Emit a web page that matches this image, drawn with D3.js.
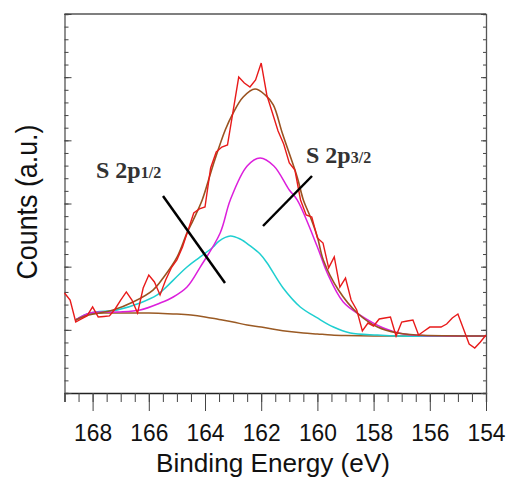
<!DOCTYPE html>
<html>
<head>
<meta charset="utf-8">
<script src="https://cdn.jsdelivr.net/npm/d3@7"></script>
<style>
  html, body { margin: 0; padding: 0; background: #fff; }
  svg { display: block; }
</style>
</head>
<body>
<svg id="chart" width="507" height="479"></svg>
<script>
// S 2p core-level spectrum: measured counts, fitted envelope, Shirley background
// and the two spin-orbit components (binding energy in eV, counts in arbitrary units).

const measuredBE = [169.0,168.8,168.6,168.4,168.2,168.0,167.8,167.6,167.4,167.2,167.0,166.8,166.6,166.4,166.2,166.0,
  165.8,165.6,165.4,165.2,165.0,164.8,164.6,164.4,164.2,164.0,163.8,163.6,163.4,163.2,163.0,162.8,162.6,162.4,162.2,
  162.0,161.8,161.6,161.4,161.2,161.0,160.8,160.6,160.4,160.2,160.0,159.8,159.6,159.4,159.2,159.0,158.8,158.6,158.4,
  158.2,158.0,157.8,157.6,157.4,157.2,157.0,156.8,156.6,156.4,156.2,156.0,155.8,155.6,155.4,155.2,155.0,154.8,154.6,
  154.4,154.2,154.0];
const measuredCounts = [7.92,7.36,5.62,5.86,6.10,6.81,6.02,6.06,6.10,6.65,7.36,8.00,7.36,6.33,8.31,9.34,
  8.79,7.76,8.95,9.90,10.53,11.56,12.90,14.25,14.57,14.72,17.81,19.08,19.47,19.63,22.32,25.01,24.54,24.22,24.78,
  26.12,23.59,22.16,20.74,19.71,18.21,17.65,15.28,14.09,13.93,12.27,11.87,9.90,10.77,8.39,9.10,7.36,6.57,4.91,
  5.54,5.30,5.86,5.94,6.02,4.51,5.62,5.70,5.78,4.59,4.91,5.22,5.22,5.22,5.46,5.94,6.25,5.07,3.88,
  3.56,4.04,4.59];

const envelopeBE = [168.6,168.27,167.27,166.56,165.85,165.49,164.99,164.64,164.42,164.10,163.71,163.28,163.0,
  162.64,162.22,161.86,161.57,161.25,160.72,160.50,160.25,160.0,159.79,159.25,158.58,157.86,157.15,156.44,154.0];
const envelopeCounts = [5.78,6.10,6.57,7.20,8.15,9.10,10.77,12.67,13.69,15.28,18.05,20.82,22.16,
  23.43,24.06,23.59,22.80,20.58,17.10,15.28,13.93,12.35,10.53,8.15,6.33,5.22,4.75,4.59,4.51];

const backgroundBE = [168.6,168.4,168.2,168.0,167.5,167.0,166.5,166.0,165.5,165.0,164.5,164.0,163.5,163.0,
  162.5,162.0,161.5,161.0,160.5,160.0,159.5,159.0,158.0,154.0];
const backgroundCounts = [5.78,6.02,6.21,6.29,6.33,6.33,6.33,6.33,6.29,6.25,6.17,6.02,5.82,5.62,
  5.38,5.22,5.03,4.87,4.75,4.67,4.59,4.55,4.51,4.51];

const p32BE = [168.6,168.09,167.13,166.31,165.60,165.13,164.64,164.17,163.46,163.10,162.5,162.04,161.55,161.0,
  160.72,160.0,159.65,159.08,158.48,157.65,156.94,155.37,154.0];
const p32Counts = [5.78,6.33,6.41,6.57,7.12,7.60,8.39,9.97,12.67,15.28,17.97,18.60,17.97,16.07,
  15.28,11.56,9.50,7.20,6.17,5.15,4.67,4.51,4.51];

const p12BE = [168.6,168.09,167.13,166.31,165.70,165.49,164.64,164.17,163.71,163.5,163.10,162.75,162.39,162.04,
  161.79,161.22,160.61,160.0,159.43,158.83,157.87,157.16,154.0];
const p12Counts = [5.78,6.33,6.57,7.12,7.76,8.15,9.97,10.77,11.56,12.03,12.43,12.19,11.64,11.00,
  10.29,8.31,6.81,5.94,5.22,4.75,4.59,4.51,4.51];

const xTickLabels = [168,166,164,162,160,158,156,154];
const xLabel = "Binding Energy (eV)";
const yLabel = "Counts (a.u.)";

const svg = d3.select("#chart");
const plotLeft = 64.5, plotRight = 486, plotTop = 14, plotBottom = 393;

const x = d3.scaleLinear().domain([169, 154]).range([plotLeft, plotRight]);
const y = d3.scaleLinear().domain([0, 30]).range([plotBottom, plotTop]);

const zip = (a, b) => a.map((v, i) => [v, b[i]]);

// frame
svg.append("line").attr("x1", plotLeft).attr("x2", plotRight).attr("y1", plotTop).attr("y2", plotTop)
  .attr("stroke", "#555").attr("stroke-width", 1.3);

// x axis: minor ticks every 0.5 eV, major labelled ticks every 2 eV
const minorX = d3.range(169, 153.99, -0.5);
svg.append("g").attr("transform", `translate(0,${plotBottom})`)
  .call(d3.axisBottom(x).tickValues(minorX).tickSize(9).tickFormat(""))
  .call(g => g.select(".domain").attr("stroke", "#222").attr("stroke-width", 1.3));
svg.append("g").attr("transform", `translate(0,${plotBottom})`)
  .call(d3.axisBottom(x).tickValues(xTickLabels).tickSize(18).tickPadding(13).tickFormat(d3.format("d")))
  .call(g => g.select(".domain").remove())
  .call(g => g.selectAll("text").attr("font-family", "Liberation Sans, Arial, sans-serif")
    .attr("font-size", 24).attr("textLength", 38).attr("lengthAdjust", "spacingAndGlyphs")
    .attr("fill", "#111"));

// y axes: ticks pointing into the plot on both sides, no labels
const yTicks = d3.range(0, 31, 1);
const yMajor = d3.range(0, 31, 5);
function yAxis(axisFn, xpos, majorLen, minorLen) {
  const g = svg.append("g").attr("transform", `translate(${xpos},0)`);
  g.call(axisFn(y).tickValues(yTicks).tickSize(minorLen).tickFormat(""))
    .call(s => s.select(".domain").attr("stroke", "#555").attr("stroke-width", 1.3));
  svg.append("g").attr("transform", `translate(${xpos},0)`)
    .call(axisFn(y).tickValues(yMajor).tickSize(majorLen).tickFormat(""))
    .call(s => s.select(".domain").remove());
}
yAxis(d3.axisRight, plotLeft, 7, 4);
yAxis(d3.axisLeft, plotRight, 5, 3);
svg.selectAll(".tick line").attr("stroke", "#444");

// curves
const smooth = d3.line().x(d => x(d[0])).y(d => y(d[1])).curve(d3.curveCatmullRom.alpha(0.5));
const straight = d3.line().x(d => x(d[0])).y(d => y(d[1]));
const sortAsc = arr => arr.slice().sort((a, b) => a[0] - b[0]);

const plot = svg.append("g");
plot.append("path").datum(sortAsc(zip(backgroundBE, backgroundCounts))).attr("d", smooth)
  .attr("fill", "none").attr("stroke", "#9a5a24").attr("stroke-width", 1.5);
plot.append("path").datum(sortAsc(zip(p12BE, p12Counts))).attr("d", smooth)
  .attr("fill", "none").attr("stroke", "#1fcfd0").attr("stroke-width", 1.5);
plot.append("path").datum(sortAsc(zip(p32BE, p32Counts))).attr("d", smooth)
  .attr("fill", "none").attr("stroke", "#dc1fdc").attr("stroke-width", 1.5);
plot.append("path").datum(sortAsc(zip(envelopeBE, envelopeCounts))).attr("d", smooth)
  .attr("fill", "none").attr("stroke", "#9a5220").attr("stroke-width", 1.6);
plot.append("path").datum(zip(measuredBE, measuredCounts)).attr("d", straight)
  .attr("fill", "none").attr("stroke", "#e81a1a").attr("stroke-width", 1.4);

// peak annotations with leader lines
function peakLabel(tx, ty, sub) {
  const t = svg.append("text").attr("x", tx).attr("y", ty)
    .attr("font-family", "Liberation Serif, Times New Roman, serif").attr("font-weight", "bold")
    .attr("font-size", 24).attr("fill", "#333");
  t.append("tspan").text("S 2p");
  t.append("tspan").attr("font-size", 16).text(sub);
}
peakLabel(96, 178, "1/2");
peakLabel(306, 163, "3/2");
svg.append("line").attr("x1", 163).attr("y1", 196).attr("x2", 225).attr("y2", 283)
  .attr("stroke", "#000").attr("stroke-width", 2.5);
svg.append("line").attr("x1", 312).attr("y1", 176).attr("x2", 263).attr("y2", 226)
  .attr("stroke", "#000").attr("stroke-width", 2.5);

// axis titles
svg.append("text").attr("x", 273).attr("y", 472).attr("text-anchor", "middle")
  .attr("font-family", "Liberation Sans, Arial, sans-serif").attr("font-size", 26)
  .attr("textLength", 234).attr("lengthAdjust", "spacingAndGlyphs").attr("fill", "#111")
  .text(xLabel);
svg.append("text").attr("transform", "translate(37,202) rotate(-90)").attr("text-anchor", "middle")
  .attr("font-family", "Liberation Sans, Arial, sans-serif").attr("font-size", 30)
  .attr("textLength", 155).attr("lengthAdjust", "spacingAndGlyphs").attr("fill", "#111")
  .text(yLabel);
</script>
</body>
</html>
